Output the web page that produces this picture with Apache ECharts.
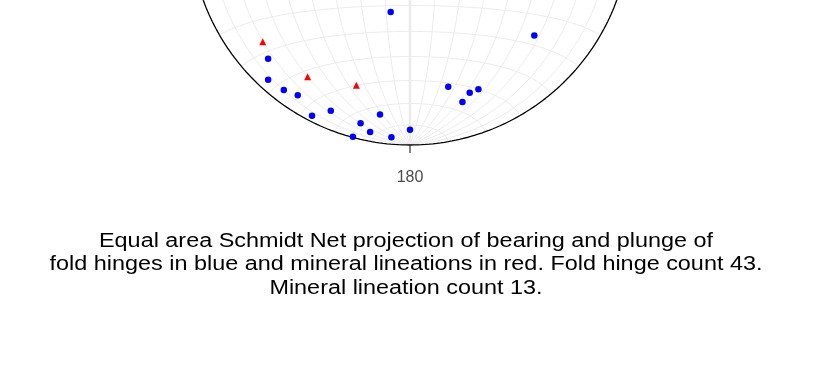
<!DOCTYPE html>
<html>
<head>
<meta charset="utf-8">
<script src="https://cdn.jsdelivr.net/npm/echarts@6/dist/echarts.min.js"></script>
<style>
html, body { margin: 0; padding: 0; background: #fff; }
#chart { width: 832px; height: 382px; }
</style>
</head>
<body>
<div id="chart"></div>
<script>
// fold hinges (blue) - bearing / plunge, degrees
var hingeTrend  = [192.5, 226.7, 222.5, 217.4, 213.4, 203.1, 207.2, 189.0, 194.0, 190.9, 195.1, 185.0, 180.0, 131.6, 166.7, 157.4, 160.4, 163.5];
var hingePlunge = [ 56.7,  12.4,   5.1,   6.2,   8.1,   9.1,   2.9,  13.9,   7.9,   4.7,   0.4,   3.5,   7.7,  25.4,  25.4,  20.2,  20.2,  17.2];
// mineral lineations (red)
var lineationTrend  = [231.6, 214.0, 198.5];
var lineationPlunge = [ 15.7,  17.9,  24.2];

var tickBearings = [180];
var captionLines = [
    'Equal area Schmidt Net projection of bearing and plunge of',
    'fold hinges in blue and mineral lineations in red. Fold hinge count 43.',
    'Mineral lineation count 13.'
];

var D2R = Math.PI / 180;

// lower hemisphere equal area, unit primitive circle
function project(trend, plunge) {
    var r = Math.SQRT2 * Math.sin((90 - plunge) / 2 * D2R);
    return [r * Math.sin(trend * D2R), r * Math.cos(trend * D2R)];
}

// schmidt net graticule point (lam = longitude, phi = latitude)
function netPoint(lam, phi) {
    lam = lam * D2R; phi = phi * D2R;
    var k = Math.sqrt(2 / (1 + Math.cos(phi) * Math.cos(lam)));
    return [k * Math.cos(phi) * Math.sin(lam) / Math.SQRT2, k * Math.sin(phi) / Math.SQRT2];
}

var meridians = [], parallels = [], centreLine = [], primitive = [];
for (var lam = -80; lam <= 80; lam += 10) {
    if (lam === 0) continue;
    for (var phi = -90; phi <= 90; phi += 1) meridians.push(netPoint(lam, phi));
    meridians.push(['-', '-']);
}
for (var phi2 = -80; phi2 <= 80; phi2 += 10) {
    if (phi2 === 0) continue;
    for (var l = -90; l <= 90; l += 1) parallels.push(netPoint(l, phi2));
    parallels.push(['-', '-']);
}
centreLine.push([0, -1], [0, 1]);
parallels.push([-1, 0], [1, 0]);
for (var a = 0; a <= 360; a += 1) primitive.push([Math.sin(a * D2R), Math.cos(a * D2R)]);

var hinges = hingeTrend.map(function (t, i) { return project(t, hingePlunge[i]); });
var lineations = lineationTrend.map(function (t, i) { return project(t, lineationPlunge[i]); });

var ticks = [];
tickBearings.forEach(function (b) {
    ticks.push([Math.sin(b * D2R), Math.cos(b * D2R)]);
    ticks.push([1.036 * Math.sin(b * D2R), 1.036 * Math.cos(b * D2R)]);
    ticks.push(['-', '-']);
});

// pixel layout: net centre at (410, -75), radius 220
var cx = 410, cy = -75, R = 220, W = 832, H = 382;

var myChart = echarts.init(document.getElementById('chart'));

function gridLine(data, width) {
    return {
        type: 'line', data: data, showSymbol: false, silent: true,
        connectNulls: false, z: 1,
        lineStyle: { color: '#ebebeb', width: width }
    };
}

myChart.setOption({
    animation: false,
    grid: { left: 0, right: 0, top: 0, bottom: 0 },
    xAxis: { type: 'value', min: -cx / R, max: (W - cx) / R, show: false },
    yAxis: { type: 'value', min: (cy - H) / R, max: cy / R, show: false },
    graphic: [
        {
            type: 'text',
            x: cx, y: 178,
            style: {
                text: String(tickBearings[0]), fill: '#4d4d4d',
                font: '16px "Liberation Sans", Arial, sans-serif',
                textAlign: 'center', textVerticalAlign: 'middle'
            }
        },
        {
            type: 'text',
            x: 406, y: 264.5, scaleX: 1.17,
            style: {
                text: captionLines.join('\n'), fill: '#000',
                font: '20px "Liberation Sans", Arial, sans-serif',
                lineHeight: 23.5,
                textAlign: 'center', textVerticalAlign: 'middle'
            }
        }
    ],
    series: [
        gridLine(meridians, 1),
        gridLine(parallels, 1),
        gridLine(centreLine, 2.5),
        {
            type: 'line', data: primitive, showSymbol: false, silent: true, z: 2,
            lineStyle: { color: '#000', width: 1.3 }
        },
        {
            type: 'line', data: ticks, showSymbol: false, silent: true, connectNulls: false, z: 2,
            lineStyle: { color: '#333', width: 1.2 }
        },
        {
            type: 'scatter', data: hinges, symbol: 'circle', symbolSize: 6.5, z: 5,
            itemStyle: { color: '#0000ff', opacity: 1 }
        },
        {
            type: 'scatter', data: lineations, symbol: 'triangle', symbolSize: [7, 7], z: 5,
            itemStyle: { color: '#ff0000', opacity: 1 }
        }
    ]
});
</script>
</body>
</html>
